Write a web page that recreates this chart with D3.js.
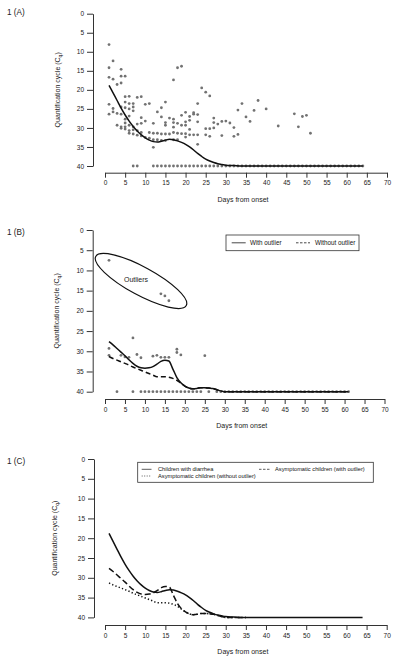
<!DOCTYPE html>
<html><head><meta charset="utf-8">
<script src="https://cdn.jsdelivr.net/npm/d3@7"></script>
<style>body{margin:0;background:#fff;} svg{display:block;}</style>
</head><body><svg id="c" width="400" height="669"></svg>
<script>
// ---------- data ----------
const xTickValues = [0,5,10,15,20,25,30,35,40,45,50,55,60,65,70];
const yTickValues = [0,5,10,15,20,25,30,35,40];
const panelLabels = ["1 (A)","1 (B)","1 (C)"];
const xAxisTitle = "Days from onset";
const undetectedCq = 40;

// Panel A: children with diarrhea (detected samples)
const aPointDays = [1,1,2,1,2,3,4,4,4,5,1,2,2,3,4,5,6,5,6,7,7,6,8,9,10,11,13,14,15,16,17,17,18,19,
  1,4,5,7,5,6,9,10,14,15,17,3,4,5,5,6,7,8,9,12,15,17,18,20,21,4,5,6,7,8,9,11,12,13,14,15,16,17,18,
  6,7,8,9,10,11,12,13,14,15,17,18,12,
  19,20,21,22,22,23,23,24,25,26,27,33,34,35,37,38,40,47,49,50,27,28,29,30,31,32,25,26,27,19,20,21,
  19,20,20,21,22,23,23,23,25,26,29,32,33,36,43,48,51];
const aPointCq = [8.1,14.2,12.4,16.7,17.2,18.6,18.2,14.6,16.4,16.4,23.8,24.9,25.8,26.2,24.5,21.8,21.7,23.2,23.6,23.6,24.5,25.0,22.0,21.8,23.8,23.6,25.8,24.7,23.2,27.4,27.7,17.4,14.2,13.8,
  26.4,26.4,24.7,25.5,27.7,26.9,27.3,28.2,27.1,28.6,28.6,29.3,29.7,28.7,29.7,29.3,29.7,29.0,28.8,28.8,29.3,29.8,28.8,28.4,28.0,30.1,30.3,30.7,30.5,30.7,31.2,31.2,31.4,31.4,31.6,31.6,31.6,31.2,31.4,
  31.4,31.6,31.9,32.1,32.5,32.7,33.1,33.1,33.3,33.3,33.1,33.1,35.1,
  26.7,25.9,27.0,26.0,26.4,26.5,23.6,19.5,20.6,21.6,27.4,25.3,23.6,27.1,25.4,22.8,25.0,26.3,27.0,26.7,28.6,29.0,28.3,28.2,28.7,29.9,30.2,30.2,30.0,29.3,29.3,30.4,
  31.5,31.5,32.4,31.8,31.8,31.8,28.4,34.3,31.8,32.2,32.0,32.2,31.7,28.3,29.5,29.7,31.4];
const aUndetectedDays = [7,8,12,13,14,15,16,17,18,19,20,21,22,23,24,25,26,27,28,29,30,31,32,33,34,35,36,37,38,39,40,41,42,43,44,45,46,47,48,49,50,51,52,53,54,55,56,57,58,59,60,61,62,63,64];

// Panel B: asymptomatic children
const bPointDays = [1,14,15,16,7,1,1,4,5,6,8,9,12,13,14,15,16,18,18,19,25];
const bPointCq = [7.5,15.8,16.3,17.5,26.7,29.3,31.0,31.0,31.4,31.5,30.8,31.6,31.2,31.0,31.5,31.5,31.5,29.5,30.3,30.9,31.1];
const bUndetectedDays = [3,7,9,10,11,12,13,14,15,16,17,18,19,20,21,22,23,24,26,28,29,30,31,32,33,34,35,36,37,38,39,40,41,42,43,44,45,46,47,48,49,50,51,52,53,54,55,56,57,58,59,60,61];
const outlierLabel = "Outliers";

// Smoothed curves
const diarrheaDays = [1,2,3,4,5,6,7,8,9,10,11,12,13,14,15,16,17,18,19,20,21,22,23,24,25,26,27,28,29,30,32,34,40,50,64];
const diarrheaCq = [18.8,20.8,22.8,24.8,26.6,28.2,29.6,30.8,31.8,32.6,33.2,33.6,33.7,33.5,33.2,33.0,33.1,33.4,33.8,34.3,35.0,35.8,36.7,37.5,38.2,38.7,39.1,39.4,39.6,39.8,39.9,40,40,40,40];
const withOutlierDays = [1,2,3,4,5,6,7,8,9,10,11,12,13,14,15,16,17,18,19,20,21,22,23,24,25,26,27,28,29,30,35,45,61];
const withOutlierCq = [27.6,28.4,29.3,30.2,31.1,32.1,33.0,33.7,34.1,34.2,34.1,33.8,33.2,32.5,32.2,32.4,34.4,36.5,37.8,38.6,39.1,39.3,39.2,39.0,39.0,39.1,39.2,39.5,39.8,40,40,40,40];
const withoutOutlierDays = [1,2,3,4,5,6,7,8,9,10,11,12,13,14,15,16,17,18,19,20,21,22,23,24,25,26,27,28,29,30,35,45,61];
const withoutOutlierCq = [31.3,31.8,32.2,32.6,33.0,33.4,33.9,34.3,34.7,35.1,35.5,35.9,36.3,36.3,36.3,36.4,36.7,37.2,37.9,38.6,39.1,39.3,39.2,39.0,39.0,39.1,39.2,39.5,39.8,40,40,40,40];
const cLastAsymptomaticDay = 35;

const legendB = ["With outlier","Without outlier"];
const legendC = ["Children with diarrhea","Asymptomatic children (with outlier)","Asymptomatic children (without outlier)"];

// ---------- drawing ----------
const FONT = '"Liberation Sans", Arial, Helvetica, sans-serif';
const svg = d3.select("#c");
const zip = (a,b) => a.map((v,i)=>[v,b[i]]);

function panel(cfg, label) {
  const x = d3.scaleLinear().domain([0,70]).range([cfg.x0, cfg.x1]);
  const y = d3.scaleLinear().domain([0,40]).range([cfg.y0, cfg.y1]);
  const g = svg.append("g");
  const ya = g.append("g").attr("transform",`translate(${cfg.yAxisX},0)`)
    .call(d3.axisLeft(y).tickValues(yTickValues).tickSize(6).tickSizeOuter(0).tickPadding(3));
  const xa = g.append("g").attr("transform",`translate(0,${cfg.xAxisY})`)
    .call(d3.axisBottom(x).tickValues(xTickValues).tickSize(5).tickSizeOuter(0).tickPadding(3));
  [ya,xa].forEach(a=>{
    a.attr("font-size",null).attr("font-family",null);
    a.selectAll("path,line").attr("stroke","#333").attr("stroke-width",1);
    a.selectAll("text").attr("font-size",6.5).attr("fill","#222").attr("font-family",FONT);
  });
  g.append("text").attr("x",(cfg.x0+cfg.x1)/2 - 3).attr("y",cfg.xAxisY+29)
    .attr("text-anchor","middle").attr("font-size",7).attr("font-family",FONT).attr("fill","#222").text(xAxisTitle);
  const yl = g.append("text").attr("transform",`translate(${cfg.ylabX},${(cfg.y0+cfg.y1)/2}) rotate(-90)`)
    .attr("text-anchor","middle").attr("font-size",7).attr("font-family",FONT).attr("fill","#222");
  yl.append("tspan").text("Quantification cycle (C");
  yl.append("tspan").attr("font-size",5).attr("dy",1.6).text("q");
  yl.append("tspan").attr("dy",-1.6).text(")");
  g.append("text").attr("x",7).attr("y",cfg.labY).attr("font-size",8.2).attr("font-family",FONT).attr("fill","#222").text(label);
  return {g,x,y};
}

function dots(p, pts) {
  p.g.append("g").selectAll("circle").data(pts).join("circle")
    .attr("cx",d=>p.x(d[0])).attr("cy",d=>p.y(d[1])).attr("r",1.4).attr("fill","#727272");
}
function curve(p, pts, dash, w) {
  const line = d3.line().x(d=>p.x(d[0])).y(d=>p.y(d[1])).curve(d3.curveMonotoneX);
  p.g.append("path").attr("d",line(pts)).attr("fill","none").attr("stroke","#111")
    .attr("stroke-width",w||1.5).attr("stroke-dasharray",dash||null);
}

// Panel A
const A = panel({x0:105,x1:387,y0:13.7,y1:166,yAxisX:93,xAxisY:172.7,ylabX:60,labY:15}, panelLabels[0]);
dots(A, zip(aPointDays,aPointCq).concat(aUndetectedDays.map(d=>[d,undetectedCq])));
curve(A, zip(diarrheaDays,diarrheaCq));

// Panel B
const B = panel({x0:105,x1:384.5,y0:230,y1:391.7,yAxisX:92.7,xAxisY:399,ylabX:59,labY:235}, panelLabels[1]);
dots(B, zip(bPointDays,bPointCq).concat(bUndetectedDays.map(d=>[d,undetectedCq])));
curve(B, zip(withOutlierDays,withOutlierCq));
curve(B, zip(withoutOutlierDays,withoutOutlierCq), "5,3");
// outlier ellipse
B.g.append("ellipse").attr("transform","translate(141,281) rotate(28.5)")
  .attr("rx",51.5).attr("ry",14).attr("fill","none").attr("stroke","#111").attr("stroke-width",1.2);
B.g.append("text").attr("x",136).attr("y",281.5).attr("text-anchor","middle").attr("font-size",7)
  .attr("font-family",FONT).attr("fill","#222").text(outlierLabel);
// legend B
const lb = B.g.append("g");
lb.append("rect").attr("x",226).attr("y",235).attr("width",133).attr("height",15.7).attr("fill","#fff").attr("stroke","#333").attr("stroke-width",0.8);
lb.append("line").attr("x1",231.7).attr("x2",245.7).attr("y1",242.8).attr("y2",242.8).attr("stroke","#333").attr("stroke-width",0.9);
lb.append("line").attr("x1",296).attr("x2",310).attr("y1",242.8).attr("y2",242.8).attr("stroke","#333").attr("stroke-width",0.9).attr("stroke-dasharray","2.5,1.5");
lb.append("text").attr("x",250).attr("y",245).attr("font-size",6.3).attr("font-family",FONT).attr("fill","#111").text(legendB[0]);
lb.append("text").attr("x",315).attr("y",245).attr("font-size",6.3).attr("font-family",FONT).attr("fill","#111").text(legendB[1]);

// Panel C
const C = panel({x0:105,x1:386.7,y0:459,y1:617.4,yAxisX:94,xAxisY:625,ylabX:57,labY:464}, panelLabels[2]);
curve(C, zip(diarrheaDays,diarrheaCq));
curve(C, zip(withOutlierDays,withOutlierCq).filter(d=>d[0]<=cLastAsymptomaticDay), "6,3");
curve(C, zip(withoutOutlierDays,withoutOutlierCq).filter(d=>d[0]<=cLastAsymptomaticDay), "1.3,2.2");
// legend C
const lc = C.g.append("g");
lc.append("rect").attr("x",137.7).attr("y",462.3).attr("width",235.6).attr("height",20).attr("fill","#fff").attr("stroke","#333").attr("stroke-width",0.8);
const lcItems = [
  {x1:141.7,x2:151.5,y:469.3,tx:158,dash:null,t:legendC[0]},
  {x1:259,x2:270.7,y:469.3,tx:275,dash:"2.5,1.5",t:legendC[1]},
  {x1:141.7,x2:151.5,y:476,tx:158,dash:"1,1.5",t:legendC[2]}
];
lcItems.forEach(it=>{
  lc.append("line").attr("x1",it.x1).attr("x2",it.x2).attr("y1",it.y).attr("y2",it.y).attr("stroke","#333").attr("stroke-width",0.8).attr("stroke-dasharray",it.dash);
  lc.append("text").attr("x",it.tx).attr("y",it.y+2).attr("font-size",5.7).attr("font-family",FONT).attr("fill","#111").text(it.t);
});
</script></body></html>
